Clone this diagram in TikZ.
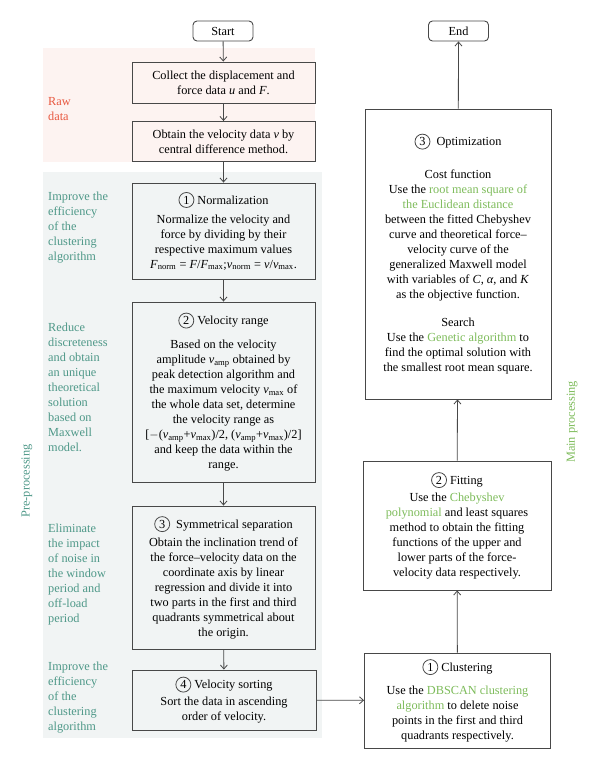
\documentclass[tikz,border=0pt]{standalone}
\usepackage{fontspec}
\setmainfont{Liberation Serif}
\usepackage{tikz}
\usetikzlibrary{positioning,arrows.meta}

\definecolor{rawred}{RGB}{232,88,64}
\definecolor{noteteal}{RGB}{78,152,136}
\definecolor{hlgreen}{RGB}{125,187,90}
\definecolor{rawbg}{RGB}{253,243,241}
\definecolor{prebg}{RGB}{241,244,244}
\definecolor{boxline}{RGB}{72,72,72}

\newcommand{\hl}[1]{\textcolor{hlgreen}{#1}}
\newcommand{\circnum}[1]{\tikz[baseline=(cn.base)]\node[draw=boxline,circle,inner sep=0pt,minimum size=15pt,line width=0.8pt] (cn) {#1};}
\newcommand{\vsub}[2]{\textit{#1}\textsubscript{#2}}

\begin{document}
\begin{tikzpicture}[%
    x=1pt,y=-1pt,
    procbox/.style={%
        draw=boxline,
        line width=0.9pt,
        rectangle,
        inner sep=0pt,
        align=center,
        font=\fontsize{12.3}{15}\selectfont
    },
    termbox/.style={%
        draw=boxline,
        line width=0.9pt,
        rounded corners=4pt,
        minimum width=60pt,
        minimum height=20pt,
        font=\fontsize{12.3}{15}\selectfont
    },
    note/.style={%
        anchor=north west,
        align=left,
        inner sep=0pt,
        text=noteteal,
        font=\fontsize{12.3}{15}\selectfont
    },
    sidetitle/.style={%
        rotate=90,
        inner sep=0pt,
        font=\fontsize{12.3}{15}\selectfont
    },
    >={Straight Barb[length=4pt,width=7pt]}
]

\useasboundingbox (0,0) rectangle (600,770);

% Backgrounds
    \fill[rawbg] (43,48) rectangle (315,162);
    \fill[prebg] (43,172) rectangle (322,738);

% Left column
    \node[termbox] (start) at (223,31) {Start};
    \node[procbox, minimum width=183pt, minimum height=41pt] (collect) at (223.5,82.5)
        {Collect the displacement and\\ force data \textit{u} and \textit{F}.};
    \node[procbox, minimum width=183pt, minimum height=40pt] (velocity) at (223.5,141.5)
        {Obtain the velocity data \textit{v} by\\ central difference method.};
    \node[procbox, minimum width=183pt, minimum height=96pt] (norm) at (223.5,231)
        {\circnum{1}\ Normalization\\[4pt]
         Normalize the velocity and\\ force by dividing by their\\ respective maximum values\\
         \vsub{F}{norm} = \textit{F}/\vsub{F}{max};\vsub{v}{norm} = \textit{v}/\vsub{v}{max}.};
    \node[procbox, minimum width=183pt, minimum height=180pt] (vrange) at (223.5,392)
        {\circnum{2}\ Velocity range\\[9pt]
         Based on the velocity\\ amplitude \vsub{v}{amp} obtained by\\ peak detection algorithm and\\
         the maximum velocity \vsub{v}{max} of\\ the whole data set, determine\\ the velocity range as\\
         \relax{[}$-$(\vsub{v}{amp}+\vsub{v}{max})/2, (\vsub{v}{amp}+\vsub{v}{max})/2{]}\\
         and keep the data within the\\ range.};
    \node[procbox, minimum width=183pt, minimum height=143pt] (symsep) at (223.5,577.5)
        {\circnum{3}\ \ Symmetrical separation\\[3pt]
         Obtain the inclination trend of\\ the force--velocity data on the\\ coordinate axis by linear\\
         regression and divide it into\\ two parts in the first and third\\ quadrants symmetrical about\\ the origin.};
    \node[procbox, minimum width=184pt, minimum height=60pt] (vsort) at (224,700)
        {\circnum{4}\ Velocity sorting\\[2pt]
         Sort the data in ascending\\ order of velocity.};

% Right column
    \node[termbox] (end) at (458.5,31) {End};
    \node[procbox, minimum width=186pt, minimum height=290pt] (optim) at (458,254)
        {\circnum{3}\ \ Optimization\\[18pt]
         Cost function\\
         Use the \hl{root mean square of}\\ \hl{the Euclidean distance}\\
         between the fitted Chebyshev\\ curve and theoretical force--\\ velocity curve of the\\
         generalized Maxwell model\\ with variables of \textit{C}, \textit{α}, and \textit{K}\\
         as the objective function.\\[13pt]
         Search\\
         Use the \hl{Genetic algorithm} to\\ find the optimal solution with\\ the smallest root mean square.};
    \node[procbox, minimum width=188pt, minimum height=129pt] (fitting) at (457,525.5)
        {\circnum{2}\ Fitting\\[2pt]
         Use the \hl{Chebyshev}\\ \hl{polynomial} and least squares\\ method to obtain the fitting\\
         functions of the upper and\\ lower parts of the force-\\ velocity data respectively.};
    \node[procbox, minimum width=186pt, minimum height=95pt] (cluster) at (457.5,700.5)
        {\circnum{1}\ Clustering\\[8pt]
         Use the \hl{DBSCAN clustering}\\ \hl{algorithm} to delete noise\\ points in the first and third\\
         quadrants respectively.};

% Side notes
    \node[note, text=rawred] (rawnote) at (48,97) {Raw\\ data};
    \node[note] (normnote) at (48,192) {Improve the\\ efficiency\\ of the\\ clustering\\ algorithm};
    \node[note] (rangenote) at (48,323) {Reduce\\ discreteness\\ and obtain\\ an unique\\ theoretical\\ solution\\ based on\\ Maxwell\\ model.};
    \node[note] (sepnote) at (48,524) {Eliminate\\ the impact\\ of noise in\\ the window\\ period and\\ off-load\\ period};
    \node[note] (sortnote) at (48,662) {Improve the\\ efficiency\\ of the\\ clustering\\ algorithm};
    \node[sidetitle, text=noteteal] (pre) at (27,481) {Pre-processing};
    \node[sidetitle, text=hlgreen] (main) at (572,422) {Main processing};

% Arrows
\draw[->, boxline, line width=0.8pt] (start) -- (collect);
\draw[->, boxline, line width=0.8pt] (collect) -- (velocity);
\draw[->, boxline, line width=0.8pt] (velocity) -- (norm);
\draw[->, boxline, line width=0.8pt] (norm) -- (vrange);
\draw[->, boxline, line width=0.8pt] (vrange) -- (symsep);
\draw[->, boxline, line width=0.8pt] (symsep) -- (vsort);
\draw[->, boxline, line width=0.8pt] (vsort) -- (cluster);

\draw[->, boxline, line width=0.8pt] (cluster) -- (fitting);
\draw[->, boxline, line width=0.8pt] (fitting) -- (optim);
\draw[->, boxline, line width=0.8pt] (optim) -- (end);

\end{tikzpicture}
\end{document}
